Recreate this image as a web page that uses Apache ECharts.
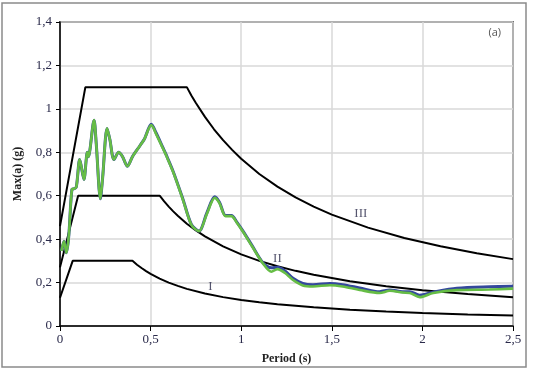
<!DOCTYPE html>
<html>
<head>
<meta charset="utf-8">
<script src="https://cdn.jsdelivr.net/npm/echarts@6/dist/echarts.min.js"></script>
<style>
html, body { margin: 0; padding: 0; background: #fff; }
#main { width: 535px; height: 370px; }
</style>
</head>
<body>
<div id="main"></div>
<script>
// spectrum, period (s) / max acceleration (g)
var specT = [0.008, 0.022, 0.035, 0.048, 0.066, 0.077, 0.09, 0.109, 0.132, 0.151, 0.158, 0.165, 0.188, 0.2, 0.223, 0.235, 0.26, 0.275, 0.298, 0.324, 0.345, 0.372, 0.4, 0.44, 0.465, 0.504, 0.53, 0.568, 0.585, 0.624, 0.679, 0.725, 0.767, 0.81, 0.854, 0.88, 0.914, 0.946, 0.975, 1.01, 1.06, 1.12, 1.167, 1.2, 1.24, 1.286, 1.34, 1.396, 1.49, 1.56, 1.654, 1.764, 1.82, 1.89, 1.93, 1.985, 2.06, 2.19, 2.37, 2.5];
var specBlue = [0.345, 0.39, 0.337, 0.41, 0.63, 0.632, 0.64, 0.767, 0.675, 0.80, 0.78, 0.81, 0.948, 0.84, 0.586, 0.68, 0.91, 0.86, 0.767, 0.80, 0.78, 0.736, 0.78, 0.829, 0.86, 0.929, 0.89, 0.821, 0.79, 0.713, 0.583, 0.468, 0.437, 0.52, 0.595, 0.57, 0.509, 0.509, 0.48, 0.437, 0.37, 0.291, 0.268, 0.27, 0.255, 0.22, 0.196, 0.19, 0.196, 0.19, 0.175, 0.158, 0.166, 0.158, 0.158, 0.142, 0.156, 0.174, 0.181, 0.183];
var specGreen = [0.345, 0.39, 0.337, 0.41, 0.63, 0.632, 0.64, 0.767, 0.675, 0.80, 0.78, 0.81, 0.948, 0.84, 0.586, 0.68, 0.91, 0.86, 0.767, 0.80, 0.78, 0.736, 0.78, 0.829, 0.86, 0.925, 0.885, 0.818, 0.787, 0.71, 0.58, 0.466, 0.437, 0.515, 0.59, 0.566, 0.506, 0.506, 0.477, 0.434, 0.367, 0.288, 0.25, 0.262, 0.245, 0.212, 0.187, 0.182, 0.188, 0.182, 0.166, 0.152, 0.162, 0.154, 0.152, 0.133, 0.152, 0.165, 0.168, 0.172];

// design spectra I, II, III
var curveIT = [0, 0.07, 0.4, 0.425, 0.45, 0.475, 0.5, 0.55, 0.6, 0.65, 0.7, 0.8, 0.9, 1.0, 1.1, 1.2, 1.4, 1.6, 1.8, 2.0, 2.25, 2.5];
var curveIV = [0.13, 0.3, 0.3, 0.282, 0.267, 0.253, 0.24, 0.218, 0.2, 0.185, 0.171, 0.15, 0.133, 0.12, 0.109, 0.1, 0.086, 0.075, 0.067, 0.06, 0.053, 0.048];
var curveIIT = [0, 0.1, 0.55, 0.575, 0.6, 0.625, 0.65, 0.7, 0.75, 0.8, 0.9, 1.0, 1.1, 1.2, 1.3, 1.4, 1.6, 1.8, 2.0, 2.25, 2.5];
var curveIIV = [0.27, 0.6, 0.6, 0.574, 0.55, 0.528, 0.508, 0.471, 0.44, 0.413, 0.367, 0.33, 0.3, 0.275, 0.254, 0.236, 0.206, 0.183, 0.165, 0.147, 0.132];
var curveIIIT = [0, 0.14, 0.7, 0.725, 0.75, 0.8, 0.85, 0.9, 0.95, 1.0, 1.1, 1.2, 1.3, 1.4, 1.5, 1.7, 1.9, 2.1, 2.3, 2.5];
var curveIIIV = [0.46, 1.1, 1.1, 1.062, 1.027, 0.963, 0.906, 0.856, 0.811, 0.77, 0.7, 0.642, 0.592, 0.55, 0.513, 0.453, 0.405, 0.367, 0.335, 0.308];

var curveNames = ['I', 'II', 'III'];
var curveLabelT = [0.83, 1.2, 1.66];
var curveLabelV = [0.18, 0.31, 0.52];

function pairs(xs, ys) {
    var out = [];
    for (var i = 0; i < xs.length; i++) {
        out.push([xs[i], ys[i]]);
    }
    return out;
}

var labelData = [];
for (var k = 0; k < curveNames.length; k++) {
    labelData.push({ name: curveNames[k], value: [curveLabelT[k], curveLabelV[k]] });
}

var myChart = echarts.init(document.getElementById('main'));

var serifFont = 'Liberation Serif';

var option = {
    animation: false,
    backgroundColor: '#fff',
    grid: {
        left: 60,
        right: 22,
        top: 22,
        bottom: 44,
        show: true,
        borderColor: '#000',
        borderWidth: 1.5
    },
    xAxis: {
        type: 'value',
        min: 0,
        max: 2.5,
        interval: 0.5,
        name: 'Period (s)',
        nameLocation: 'middle',
        nameGap: 27,
        nameTextStyle: { color: '#222', fontFamily: serifFont, fontSize: 12, fontWeight: 'bold' },
        axisLine: { lineStyle: { color: '#000', width: 1.5 } },
        axisTick: { show: true, length: 5, lineStyle: { color: '#000' } },
        axisLabel: {
            color: '#2a2a4a',
            fontFamily: serifFont,
            fontSize: 13,
            margin: 7,
            formatter: function (v) { return String(v).replace('.', ','); }
        },
        splitLine: { show: true, lineStyle: { color: '#d9d9d9', width: 1.5 } }
    },
    yAxis: {
        type: 'value',
        min: 0,
        max: 1.4,
        interval: 0.2,
        name: 'Max(a) (g)',
        nameLocation: 'middle',
        nameGap: 36,
        nameTextStyle: { color: '#222', fontFamily: serifFont, fontSize: 12, fontWeight: 'bold' },
        axisLine: { show: true, lineStyle: { color: '#000', width: 1.5 } },
        axisTick: { show: true, length: 4, lineStyle: { color: '#000' } },
        axisLabel: {
            color: '#2a2a4a',
            fontFamily: serifFont,
            fontSize: 13,
            margin: 8,
            formatter: function (v) { return String(Math.round(v * 10) / 10).replace('.', ','); }
        },
        splitLine: { show: true, lineStyle: { color: '#d9d9d9', width: 1.5 } }
    },
    graphic: [{
        type: 'rect',
        shape: { x: 2, y: 3, width: 524, height: 364 },
        style: { fill: 'none', stroke: '#8a8a8a', lineWidth: 1.5 },
        silent: true
    }, {
        type: 'text',
        right: 34,
        top: 27,
        style: { text: '(a)', fill: '#555', font: '11px "Open Sans"' }
    }],
    series: [{
        name: 'I',
        type: 'line',
        data: pairs(curveIT, curveIV),
        symbol: 'none',
        lineStyle: { color: '#000', width: 2 }
    }, {
        name: 'II',
        type: 'line',
        data: pairs(curveIIT, curveIIV),
        symbol: 'none',
        lineStyle: { color: '#000', width: 2 }
    }, {
        name: 'III',
        type: 'line',
        data: pairs(curveIIIT, curveIIIV),
        symbol: 'none',
        lineStyle: { color: '#000', width: 2 }
    }, {
        name: 'blue',
        type: 'line',
        data: pairs(specT, specBlue),
        symbol: 'none',
        smooth: 0.3,
        lineStyle: { color: '#34489c', width: 3 }
    }, {
        name: 'green',
        type: 'line',
        data: pairs(specT, specGreen),
        symbol: 'none',
        smooth: 0.3,
        lineStyle: { color: '#66bd45', width: 2.6 }
    }, {
        name: 'labels',
        type: 'scatter',
        data: labelData,
        symbolSize: 0,
        label: {
            show: true,
            position: 'inside',
            formatter: '{b}',
            color: '#2a2a4a',
            fontFamily: serifFont,
            fontSize: 13
        }
    }]
};

myChart.setOption(option);
</script>
</body>
</html>
